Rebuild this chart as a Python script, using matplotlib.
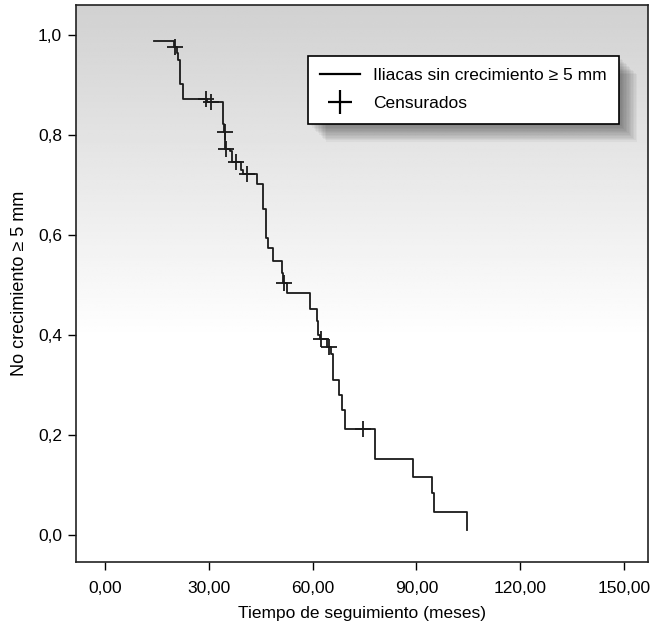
import matplotlib
matplotlib.use("Agg")
import matplotlib.pyplot as plt
import matplotlib.patheffects as pe
from matplotlib.lines import Line2D
import numpy as np

# Kaplan-Meier steps: time (months) and survival after each step
times = [14.2, 19.8, 20.7, 21.1, 21.6, 22.4, 29.3, 33.9, 34.3, 34.7, 36.1, 36.6,
         39.2, 39.7, 43.8, 45.5, 46.5, 47.0, 48.6, 51.0, 51.3, 52.5, 59.2, 61.3,
         61.6, 62.2, 64.0, 65.2, 66.0, 67.7, 68.4, 69.2, 78.0, 88.9, 94.4, 95.2,
         104.7]
surv = [0.988, 0.976, 0.965, 0.950, 0.903, 0.873, 0.867, 0.823, 0.806, 0.773,
        0.769, 0.747, 0.730, 0.723, 0.703, 0.653, 0.595, 0.575, 0.549, 0.525,
        0.505, 0.485, 0.453, 0.429, 0.400, 0.393, 0.377, 0.363, 0.310, 0.280,
        0.250, 0.212, 0.153, 0.117, 0.085, 0.047, 0.011]

# censored observations
cens_t = [20.0, 29.0, 30.6, 34.5, 34.9, 37.7, 40.9, 51.6, 62.5, 64.7, 74.6]
cens_s = [0.976, 0.873, 0.867, 0.806, 0.773, 0.747, 0.723, 0.505, 0.393, 0.377, 0.212]

xticks = [0, 30, 60, 90, 120, 150]
xticklabels = ["0,00", "30,00", "60,00", "90,00", "120,00", "150,00"]
yticks = [0.0, 0.2, 0.4, 0.6, 0.8, 1.0]
yticklabels = ["0,0", "0,2", "0,4", "0,6", "0,8", "1,0"]

plt.rcParams['font.family'] = ['Liberation Sans', 'DejaVu Sans']

W, H = 651, 637
fig = plt.figure(figsize=(W / 100, H / 100), dpi=100)
ax = fig.add_axes([76 / W, 1 - 562 / H, (648 - 76) / W, (562 - 5) / H])

# gray-to-white background gradient
n = 256
pos = np.linspace(1, 0, n)  # top -> bottom
grad = np.where(pos > 0.40, 0.82 + (1 - 0.82) * (1 - (pos - 0.40) / 0.60), 1.0)
img = np.repeat(grad[:, None], 2, axis=1)
ax.imshow(img, cmap='gray', vmin=0, vmax=1, aspect='auto',
          extent=[0, 1, 0, 1], transform=ax.transAxes, zorder=0,
          interpolation='bilinear')

ax.step(times, surv, where='post', color='#1a1a1a', lw=1.3, zorder=3)
ax.plot(cens_t, cens_s, ls='none', marker='+', ms=11, mew=1.3,
        color='#1a1a1a', zorder=4)

ax.set_xlim(-8.5, 157.0)
ax.set_ylim(-0.054, 1.06)
ax.set_xticks(xticks)
ax.set_xticklabels(xticklabels)
ax.set_yticks(yticks)
ax.set_yticklabels(yticklabels)
ax.tick_params(labelsize=12.5, length=6, width=1, direction='out')
ax.tick_params(axis='y', pad=4)
ax.tick_params(axis='x', pad=8)
for s in ax.spines.values():
    s.set_linewidth(1.2)
    s.set_color('#222222')

ax.set_xlabel("Tiempo de seguimiento (meses)", fontsize=12.5, labelpad=7)
ax.set_ylabel("No crecimiento ≥ 5 mm", fontsize=13, labelpad=7)

handles = [Line2D([], [], color='k', lw=1.6),
           Line2D([], [], ls='none', marker='+', ms=17, mew=1.6, color='k')]
labels = ["Iliacas sin crecimiento ≥ 5 mm", "Censurados"]
leg = ax.legend(handles, labels, loc='upper left',
                bbox_to_anchor=(308 / W, 1 - 56 / H), bbox_transform=fig.transFigure,
                fontsize=12.5, frameon=True, fancybox=False, framealpha=1,
                edgecolor='k', borderaxespad=0, handlelength=2.3,
                handletextpad=0.75, labelspacing=0.75, borderpad=0.7)
frame = leg.get_frame()
frame.set_linewidth(1.2)
# soft drop shadow built from several faint offset copies
shadows = [pe.SimplePatchShadow(offset=(2 + k, -2 - k), shadow_rgbFace='k', alpha=0.04)
           for k in range(0, 12)]
frame.set_path_effects(shadows + [pe.Normal()])

fig.savefig("out.png", dpi=100)
